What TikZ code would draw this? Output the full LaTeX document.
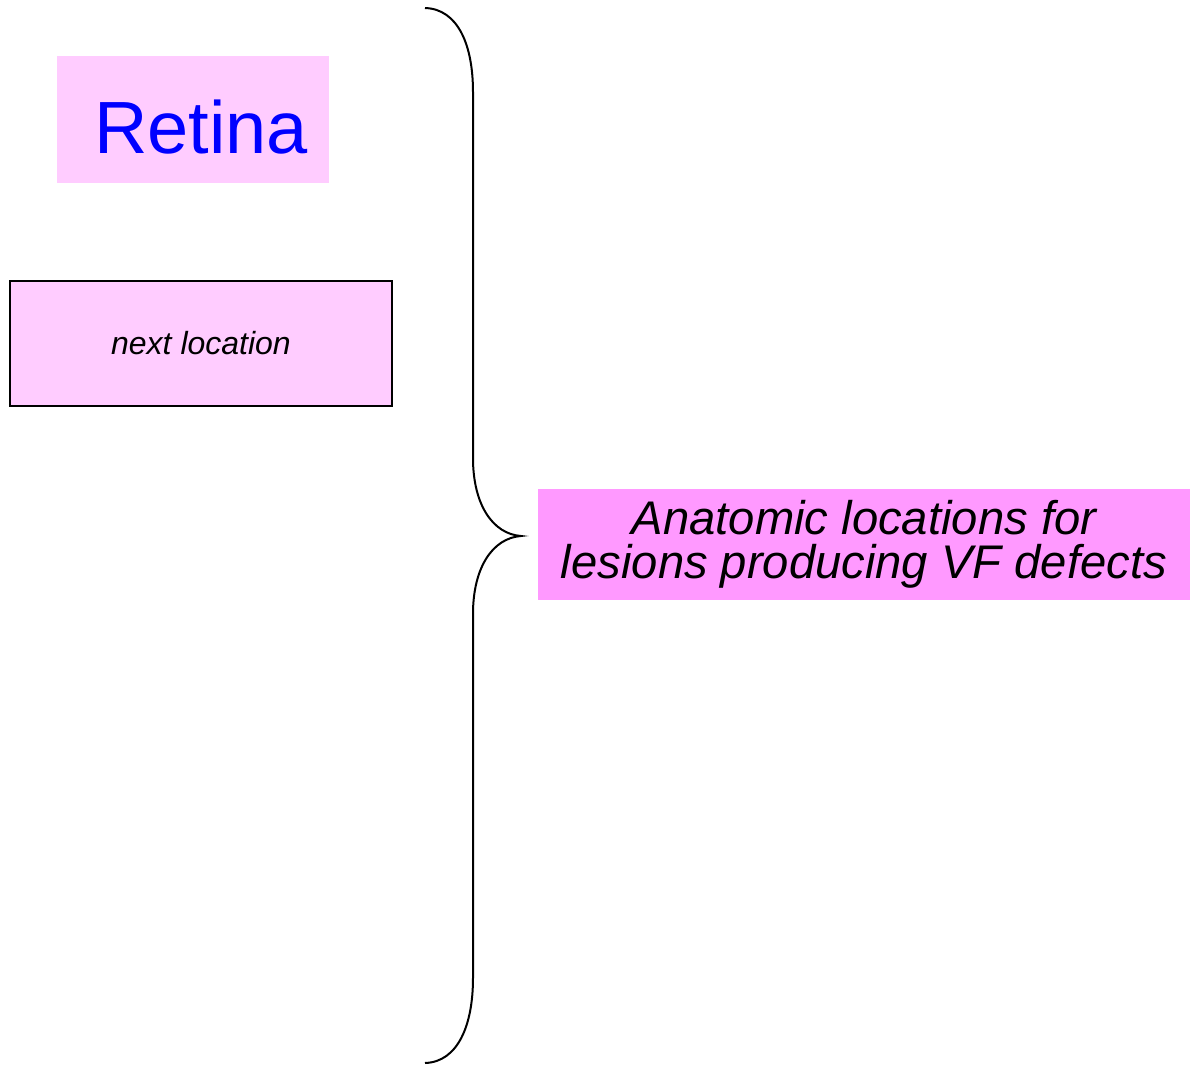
\documentclass[tikz,border=0pt]{standalone}
\usepackage{fontspec}
\setmainfont{Liberation Sans}
\definecolor{palepink}{HTML}{FFCCFF}
\definecolor{brightpink}{HTML}{FF99FF}
\definecolor{titleblue}{HTML}{0000FF}
\begin{document}
\begin{tikzpicture}[x=0.5pt,y=-0.5pt,
  boxbase/.style={inner sep=0pt, outer sep=0pt},
  brace/.style={draw=black, line width=1pt}]
\useasboundingbox (0,0) rectangle (1190,1066);
% title box
\node[boxbase, fill=palepink, minimum width=136pt, minimum height=63.5pt] (retina) at (193,119.5) {};
\node[boxbase, text=titleblue, font=\fontsize{37}{40}\selectfont] (retinatext) at (201,127.5) {Retina};
% placeholder location box
\node[boxbase, fill=palepink, draw=black, line width=1pt, minimum width=191pt, minimum height=62.5pt,
  font=\fontsize{16}{19}\selectfont\itshape] (next) at (201,343.5) {next location};
% summary box
\node[boxbase, fill=brightpink, minimum width=326.5pt, minimum height=55.5pt,
  align=center, font=\fontsize{23.6}{22}\selectfont\itshape] (anat) at (864,544) {Anatomic locations for\\lesions producing VF defects};
% curly brace
\coordinate (btop) at (425,8);
\coordinate (tip) at (521,536);
\coordinate (bbot) at (425,1063);
\draw[brace] (btop) .. controls (458,9) and (473,45) .. (473,92)
  -- (473,458) .. controls (473,505) and (493,534) .. (tip)
  .. controls (493,538) and (473,567) .. (473,614)
  -- (473,978) .. controls (473,1025) and (458,1062) .. (bbot);
\end{tikzpicture}
\end{document}
